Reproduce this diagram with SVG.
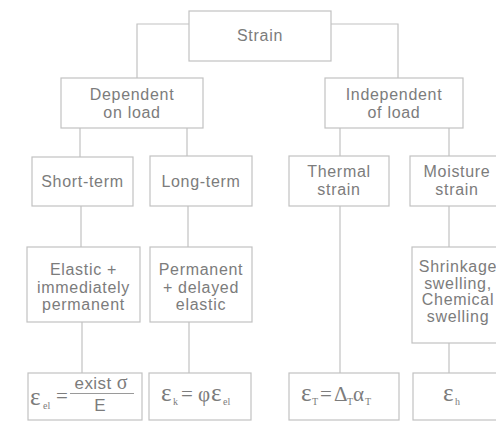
<svg xmlns="http://www.w3.org/2000/svg" width="496" height="422" viewBox="0 0 496 422">
<style>
rect{fill:#fff;stroke:#c2c2c2;stroke-width:1.2}
#connectors path{fill:none;stroke:#c2c2c2;stroke-width:1.2}
text{font-family:"Liberation Sans",Arial,sans-serif;font-size:16px;fill:#7c7c7c;text-anchor:middle;letter-spacing:0.7px}
.f{font-family:"Liberation Serif","Times New Roman",serif;font-size:21px;text-anchor:start;letter-spacing:0}
.e{font-size:25px}
.s{font-size:10px}
.fs{font-family:"Liberation Sans",Arial,sans-serif;font-size:17px;letter-spacing:0.4px}
</style>
<rect x="0" y="0" width="496" height="422" style="stroke:none"/>
<g id="connectors">
<path d="M189 24H137V78"/>
<path d="M331 24H398V78"/>
<path d="M80 128V157"/>
<path d="M187 128V156"/>
<path d="M340 128V156"/>
<path d="M449 128V156"/>
<path d="M81 206V247"/>
<path d="M188 206V247"/>
<path d="M340 206V373"/>
<path d="M449 206V247"/>
<path d="M82 322V373"/>
<path d="M189 322V373"/>
<path d="M449 343V373"/>
</g>
<g id="strain"><rect x="189" y="11" width="142" height="50"/><text x="260" y="41">Strain</text></g>
<g id="dependent"><rect x="61" y="78" width="142" height="50"/><text x="132" y="100">Dependent</text><text x="132" y="118">on load</text></g>
<g id="independent"><rect x="325" y="78" width="138" height="50"/><text x="394" y="100">Independent</text><text x="394" y="118">of load</text></g>
<g id="shortterm"><rect x="32" y="157" width="101" height="49"/><text x="82.5" y="187">Short-term</text></g>
<g id="longterm"><rect x="150" y="156" width="102" height="50"/><text x="201" y="187">Long-term</text></g>
<g id="thermal"><rect x="289" y="156" width="100" height="50"/><text x="339" y="177">Thermal</text><text x="339" y="195">strain</text></g>
<g id="moisture"><rect x="410" y="156" width="96" height="50"/><text x="457" y="177">Moisture</text><text x="457" y="195">strain</text></g>
<g id="elastic"><rect x="27" y="247" width="113" height="75"/><text x="83.5" y="275">Elastic +</text><text x="83.5" y="293">immediately</text><text x="83.5" y="310">permanent</text></g>
<g id="permanent"><rect x="150" y="247" width="102" height="75"/><text x="201" y="275">Permanent</text><text x="201" y="293">+ delayed</text><text x="201" y="310">elastic</text></g>
<g id="shrinkage"><rect x="412" y="247" width="94" height="96"/><text x="458" y="272">Shrinkage</text><text x="458" y="288.5">swelling,</text><text x="458" y="305">Chemical</text><text x="458" y="322">swelling</text></g>
<g id="f-elastic"><rect x="28" y="373" width="114" height="47"/>
<text class="f e" x="30" y="405">ε</text><text class="f s" x="43" y="409">el</text>
<text class="f" x="56" y="403">=</text>
<text class="fs" x="101" y="389">exist <tspan class="f" style="font-size:20px">σ</tspan></text>
<path d="M70 393.5H134" style="stroke:#9a9a9a;stroke-width:1"/>
<text class="fs" x="100" y="411">E</text>
</g>
<g id="f-long"><rect x="149" y="373" width="102" height="47"/>
<text class="f e" x="161" y="401">ε</text><text class="f s" x="173" y="405">k</text>
<text class="f" x="181" y="401">=</text>
<text class="f" x="198" y="401">φ</text>
<text class="f e" x="211" y="401">ε</text><text class="f s" x="223" y="405">el</text>
</g>
<g id="f-thermal"><rect x="289" y="373" width="110" height="47"/>
<text class="f e" x="301" y="401">ε</text><text class="f s" x="312" y="405">T</text>
<text class="f" x="320" y="401">=</text>
<text class="f" x="334" y="401">Δ</text><text class="f s" x="347" y="405">T</text>
<text class="f" x="353" y="401">α</text><text class="f s" x="365" y="405">T</text>
</g>
<g id="f-moisture"><rect x="413" y="373" width="93" height="47"/>
<text class="f e" x="443" y="401">ε</text><text class="f s" x="455" y="405">h</text>
</g>
</svg>
